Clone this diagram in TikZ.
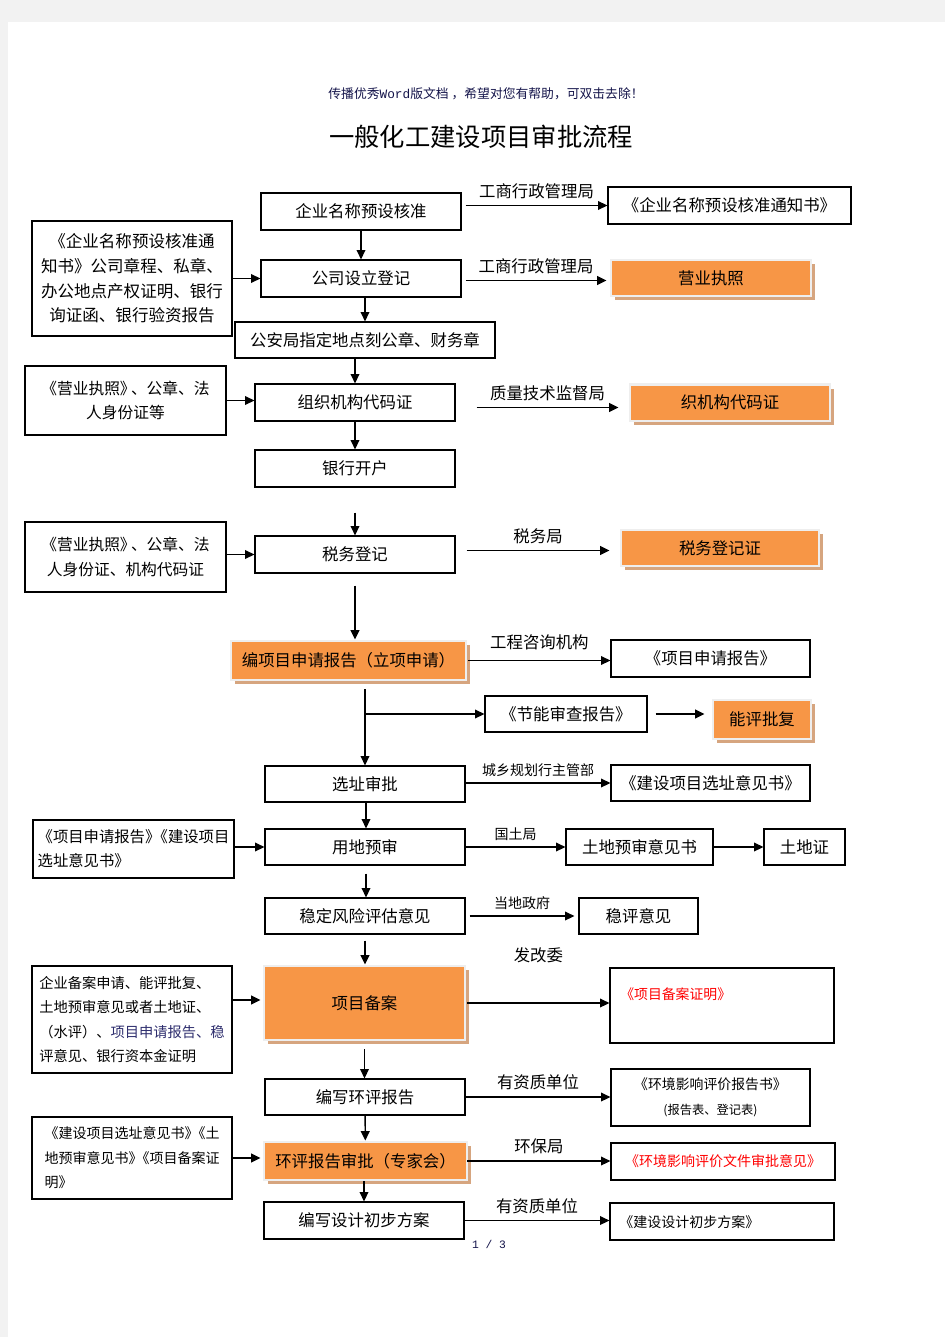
\documentclass[tikz,border=0pt]{standalone}
\usepackage{fontspec}
\setmainfont{Noto Sans CJK SC}
\newfontfamily\monof{Liberation Mono}
\usetikzlibrary{calc,arrows.meta,shadows}
\definecolor{obg}{HTML}{F79646}
\definecolor{ofr}{HTML}{EEEEEE}
\definecolor{stan}{HTML}{D6A57F}
\definecolor{pagebg}{HTML}{F2F2F2}
\definecolor{navy}{HTML}{14144A}
\definecolor{dblue}{HTML}{2E2E6E}
\newcommand\fsz[2]{\fontsize{#1pt}{#2pt}\selectfont}
\newcommand\jn{》\kern-0.5em《}
\tikzset{
  bb/.style args={#1/#2/#3/#4}{at={({(#1+#3)/2},{(#2+#4)/2})},
    minimum width={(#3-#1)*0.75pt}, minimum height={(#4-#2)*0.75pt}},
  box/.style={draw=black, line width=0.9pt, inner sep=0pt, align=center, font=\fsz{12.3}{18}},
  obox/.style={draw=ofr, line width=2.2pt, fill=obg, inner sep=0pt, align=center, font=\fsz{12.3}{18},
    drop shadow={shadow xshift=3.2pt, shadow yshift=-3.2pt, fill=stan, opacity=1}},
  arr/.style={-{Triangle[length=7pt,width=6.5pt]}, line width=1.1pt},
  lab/.style={above, inner sep=4.5pt, font=\fsz{12.3}{14}},
  slab/.style={above, inner sep=4.5pt, font=\fsz{10.5}{12}}
}
\begin{document}
\begin{tikzpicture}[x=0.75pt,y=-0.75pt]
\useasboundingbox (0,0) rectangle (945,1337);
\fill[pagebg] (0,0) rectangle (945,1337);
\fill[white] (8,22) rectangle (945,1337);

\node[text=navy, font=\fsz{9.6}{10}] (hdr) at (486,94) {传播优秀{\monof Word}版文档 ，希望对您有帮助，可双击去除！};
\node[font=\fsz{19}{20}] (ttl) at (481,137) {一般化工建设项目审批流程};

% main column
\node[box, bb=261/193/461/230] (A1) {企业名称预设核准};
\node[box, bb=261/260/461/297] (A2) {公司设立登记};
\node[box, bb=235/322/495/358] (A3) {公安局指定地点刻公章、财务章};
\node[box, bb=255/384/455/421] (A4) {组织机构代码证};
\node[box, bb=255/450/455/487] (A5) {银行开户};
\node[box, bb=255/536/455/573] (A6) {税务登记};
\node[obox, bb=231/641/466/680] (A7) {编项目申请报告（立项申请）};
\node[box, bb=265/766/465/802] (A8) {选址审批};
\node[box, bb=265/829/465/865] (A9) {用地预审};
\node[box, bb=265/898/465/934] (A10) {稳定风险评估意见};
\node[obox, bb=264/966/465/1040] (A11) {项目备案};
\node[box, bb=265/1079/465/1115] (A12) {编写环评报告};
\node[obox, bb=264/1142/467/1180] (A13) {环评报告审批（专家会）};
\node[box, bb=264/1202/464/1239] (A14) {编写设计初步方案};

% left inputs
\node[box, bb=32/221/232/336, font=\fsz{12.4}{18.5}] (L1) {《企业名称预设核准通\\知书》公司章程、私章、\\办公地点产权证明、银行\\询证函、银行验资报告};
\node[box, bb=25/366/226/435, font=\fsz{11.8}{18}] (L2) {《营业执照》\kern-0.3em、公章、法\\人身份证等};
\node[box, bb=25/522/226/592, font=\fsz{11.8}{18.7}] (L3) {《营业执照》\kern-0.3em、公章、法\\人身份证、机构代码证};
\node[box, bb=33/820/234/878, align=left, font=\fsz{11.5}{18}] (L4) {《项目申请报告\jn 建设项目\\选址意见书》};
\node[box, bb=32/966/232/1073, align=left, font=\fsz{10.7}{18.2}] (L5) {企业备案申请、能评批复、\\土地预审意见或者土地证、\\（水评）、{\color{dblue}项目申请报告、稳}\\评意见、银行资本金证明};
\node[box, bb=32/1117/232/1199, align=left, font=\fsz{10.5}{18.4}] (L6) {《建设项目选址意见书\jn 土\\地预审意见书\jn 项目备案证\\明》};

% right outputs
\node[box, bb=608/187/851/224] (R1) {《企业名称预设核准通知书》};
\node[obox, bb=611/260/811/296] (R2) {营业执照};
\node[obox, bb=630/384.5/830/421] (R3) {织机构代码证};
\node[obox, bb=621/530/819/566] (R4) {税务登记证};
\node[box, bb=611/640/810/677] (R5) {《项目申请报告》};
\node[box, bb=485/696/647/732] (R6) {《节能审查报告》};
\node[obox, bb=713/700/811/739] (R7) {能评批复};
\node[box, bb=611/765/810/801] (R8) {《建设项目选址意见书》};
\node[box, bb=566/829/713/865] (R9) {土地预审意见书};
\node[box, bb=764/829/845/865] (R10) {土地证};
\node[box, bb=579/898/698/934] (R11) {稳评意见};
\node[box, bb=610/968/834/1043] (R12) {};
\node[anchor=west, text=red, inner sep=0pt, font=\fsz{10.4}{12}] (R12t) at (620,994) {《项目备案证明》};
\node[box, bb=611/1069/810/1126, font=\fsz{10.4}{18.7}] (R13) {《环境影响评价报告书》\\{\fsz{9.2}{10}(报告表、登记表)}};
\node[box, bb=611/1143/835/1180, text=red, font=\fsz{10.5}{12}] (R14) {《环境影响评价文件审批意见》};
\node[box, bb=610/1203/834/1240] (R15) {};
\node[anchor=west, inner sep=0pt, font=\fsz{10.5}{12}] (R15t) at (619,1222) {《建设设计初步方案》};

\node[text=navy, font=\monof\fsz{8.5}{9}] (ftr) at (489,1244) {1 / 3};

% vertical flow
\draw[arr] (A1) -- (A2);
\draw[arr] (A2.south -| A3.north) -- (A3.north);
\draw[arr] (A3.south -| A4.north) -- (A4.north);
\draw[arr] (A4) -- (A5);
\draw[arr] ($(A5.south)+(0,25)$) -- (A6.north);
\draw[arr] ($(A6.south)+(0,12)$) -- (A6.south |- A7.north);
\coordinate (b0) at ($(A7.south -| A8.north)+(0,8)$);
\draw[arr] (b0) -- (A8.north);
\coordinate (b1) at (b0 |- R6.west);
\draw[arr] (b1) -- (R6.west);
\draw[arr] ($(R6.east)+(8,0)$) -- ($(R6.east -| R7.west)+(-7,0)$);
\draw[arr] (A8.south -| 366,0) -- (A9.north -| 366,0);
\draw[arr] ($(A9.south -| 366,0)+(0,8)$) -- (A10.north -| 366,0);
\draw[arr] ($(A10.south)+(0,6)$) -- (A10.south |- A11.north);
\draw[arr] ($(A11.south)+(0,8)$) -- (A11.south |- A12.north);
\draw[arr] (A12) -- (A13);
\draw[arr] (A13.south -| A14.north) -- (A14.north);

% left inputs
\draw[arr] (L1.east |- A2.west) -- (A2.west);
\draw[arr] (L2.east) -- (L2.east -| A4.west);
\draw[arr] (L3.east |- A6.west) -- (A6.west);
\draw[arr] (L4.east |- A9.west) -- (A9.west);
\draw[arr] ($(L5.east |- A11.west)+(0,-3)$) -- ($(A11.west)+(-2,-3)$);
\draw[arr] (L6.east) -- ($(L6.east -| A13.west)+(-2,0)$);

% right outputs
\draw[arr] ($(A1.east |- R1.west)+(4,0)$) -- node[lab] {工商行政管理局} (R1.west);
\draw[arr] ($(A2.east)+(4,2)$) -- node[lab] {工商行政管理局} ($(A2.east -| R2.west)+(-3,2)$);
\draw[arr] ($(A4.east)+(21,5)$) -- node[lab] {质量技术监督局} ($(A4.east -| R3.west)+(-10,5)$);
\draw[arr] ($(A6.east)+(11,-4)$) -- node[lab] {税务局} ($(A6.east -| R4.west)+(-10,-4)$);
\draw[arr] ($(A7.east |- R5.west)+(1,2)$) -- node[lab, inner sep=7pt] {工程咨询机构} ($(R5.west)+(0,2)$);
\draw[arr] (A8.east |- R8.west) -- node[slab] {城乡规划行主管部} (R8.west);
\draw[arr] (A9.east) -- node[slab] {国土局} (A9.east -| R9.west);
\draw[arr] (R9) -- (R10);
\draw[arr] ($(A10.east)+(4,0)$) -- node[slab] {当地政府} ($(A10.east -| R11.west)+(-4,0)$);
\draw[arr] ($(A11.east)+(1,0)$) -- node[lab, above=25pt] {发改委} (A11.east -| R12.west);
\draw[arr] (A12.east) -- node[lab] {有资质单位} (A12.east -| R13.west);
\draw[arr] ($(A13.east)+(-1,0)$) -- node[lab] {环保局} (A13.east -| R14.west);
\draw[arr] (A14.east) -- node[lab] {有资质单位} (A14.east -| R15.west);
\end{tikzpicture}
\end{document}
